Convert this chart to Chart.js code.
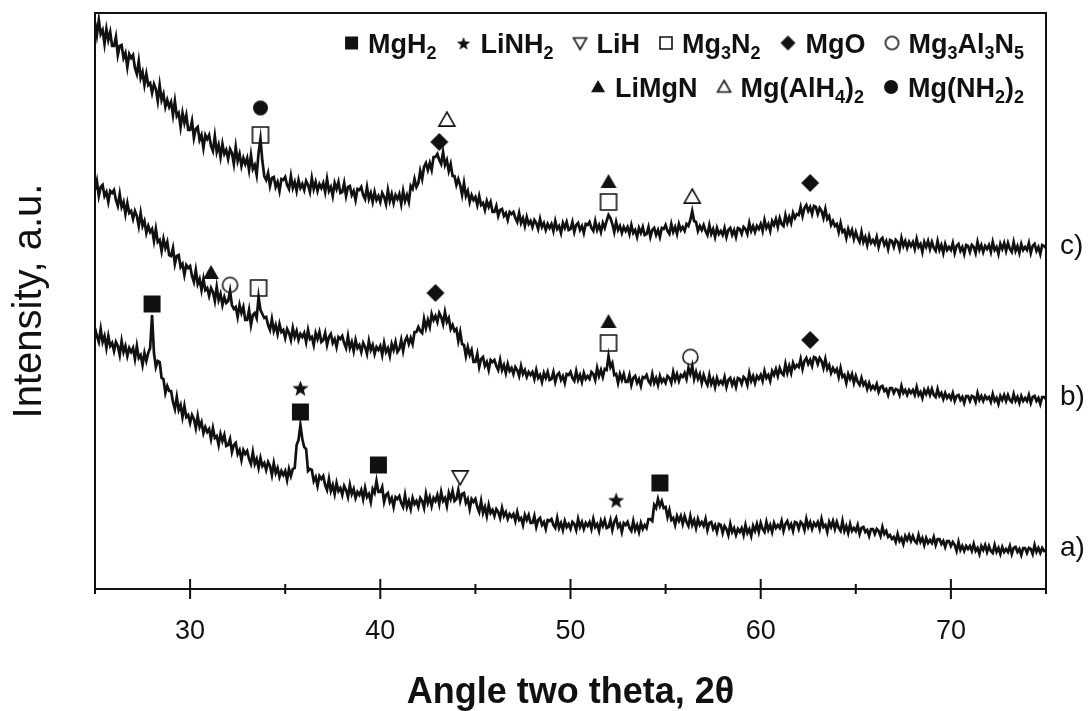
<!DOCTYPE html>
<html>
<head>
<meta charset="utf-8">
<title>XRD patterns</title>
<script src="https://cdn.jsdelivr.net/npm/chart.js@4.4.1/dist/chart.umd.min.js"></script>
<style>
  html, body { margin: 0; padding: 0; background: #fff; }
</style>
</head>
<body>
<canvas id="xrd" width="1090" height="711"></canvas>
<script>
// scan grid, 25-75 deg in 0.1 deg steps
const twoTheta = [];
for (let i = 0; i <= 500; i++) twoTheta.push(+(25 + i * 0.1).toFixed(1));

// intensities, a.u. (patterns stacked with their own offsets), one row per degree
const patternA = [
    261, 253, 247, 260, 247, 253, 241, 253, 243, 246, // 25
    238, 247, 243, 234, 248, 237, 243, 233, 241, 237, // 26
    241, 230, 243, 231, 234, 224, 236, 228, 236, 241, // 27
    274, 236, 222, 228, 227, 211, 210, 196, 203, 198, // 28
    198, 187, 180, 192, 179, 184, 172, 183, 172, 174, // 29
    166, 174, 170, 161, 173, 162, 167, 156, 162, 157, // 30
    160, 150, 161, 151, 153, 144, 155, 148, 154, 143, // 31
    144, 150, 137, 144, 146, 135, 139, 129, 139, 135, // 32
    138, 130, 125, 137, 125, 130, 121, 131, 123, 126, // 33
    119, 127, 123, 114, 126, 116, 121, 112, 118, 114, // 34
    118, 109, 120, 113, 120, 121, 144, 149, 164, 150, // 35
    142, 140, 118, 120, 119, 108, 112, 103, 113, 110, // 36
    113, 104, 99, 110, 98, 104, 95, 106, 98, 101,     // 37
    94, 103, 99, 92, 104, 95, 100, 91, 97, 94,        // 38
    99, 90, 101, 92, 95, 87, 100, 96, 108, 97,        // 39
    97, 102, 87, 94, 96, 87, 91, 82, 92, 90,          // 40
    93, 86, 82, 94, 82, 88, 80, 91, 85, 88,           // 41
    82, 91, 88, 81, 95, 86, 92, 83, 91, 88,           // 42
    94, 85, 97, 88, 91, 83, 96, 90, 98, 88,           // 43
    90, 99, 88, 95, 96, 86, 90, 80, 90, 87,           // 44
    90, 82, 77, 88, 76, 82, 73, 84, 76, 79,           // 45
    73, 80, 77, 71, 81, 73, 77, 70, 75, 72,           // 46
    75, 68, 77, 69, 71, 64, 74, 69, 74, 66,           // 47
    66, 73, 62, 69, 71, 64, 67, 60, 69, 68,           // 48
    70, 64, 61, 71, 61, 66, 59, 68, 62, 65,           // 49
    60, 67, 65, 59, 70, 62, 67, 60, 66, 63,           // 50
    67, 60, 70, 62, 65, 58, 68, 63, 69, 61,           // 51
    62, 69, 59, 67, 71, 62, 65, 57, 66, 64,           // 52
    67, 61, 58, 68, 59, 64, 57, 66, 60, 64,           // 53
    61, 70, 70, 68, 84, 81, 90, 83, 88, 81,           // 54
    82, 72, 79, 69, 71, 64, 73, 68, 73, 65,           // 55
    73, 67, 63, 73, 64, 69, 61, 70, 64, 67,           // 56
    63, 70, 59, 66, 67, 60, 64, 57, 65, 64,           // 57
    56, 63, 60, 54, 65, 57, 61, 54, 60, 57,           // 58
    61, 54, 64, 56, 60, 53, 63, 58, 65, 57,           // 59
    66, 60, 57, 67, 59, 64, 57, 66, 61, 64,           // 60
    61, 68, 58, 65, 68, 61, 65, 58, 67, 66,           // 61
    60, 67, 65, 59, 70, 62, 67, 60, 66, 63,           // 62
    67, 60, 70, 62, 64, 57, 67, 62, 68, 60,           // 63
    67, 61, 58, 68, 58, 63, 56, 65, 58, 61,           // 64
    58, 64, 55, 61, 62, 57, 59, 53, 60, 60,           // 65
    55, 60, 58, 53, 62, 55, 58, 52, 54, 50,           // 66
    52, 47, 55, 48, 51, 45, 53, 49, 54, 48,           // 67
    53, 48, 46, 54, 47, 51, 44, 51, 46, 49,           // 68
    46, 52, 44, 50, 50, 45, 48, 42, 48, 48,           // 69
    43, 47, 44, 38, 47, 39, 43, 38, 43, 40,           // 70
    43, 38, 45, 38, 41, 35, 43, 39, 44, 37,           // 71
    43, 38, 36, 44, 37, 41, 35, 42, 37, 40,           // 72
    37, 43, 35, 41, 42, 37, 40, 34, 41, 41,           // 73
    36, 41, 40, 35, 44, 37, 41, 36, 41, 38,           // 74
    39
];
const patternB = [
    399, 408, 393, 402, 404, 393, 397, 387, 398, 396, // 25
    399, 389, 383, 395, 382, 387, 375, 386, 376, 378, // 26
    370, 378, 373, 363, 376, 363, 368, 356, 363, 357, // 27
    360, 348, 360, 347, 349, 338, 350, 341, 347, 334, // 28
    333, 341, 325, 333, 334, 322, 325, 314, 324, 321, // 29
    323, 313, 307, 319, 305, 310, 299, 310, 299, 301, // 30
    293, 301, 297, 288, 302, 289, 295, 284, 292, 286, // 31
    288, 298, 284, 280, 282, 272, 284, 276, 282, 269, // 32
    269, 279, 264, 274, 276, 271, 292, 279, 275, 271, // 33
    272, 264, 259, 270, 258, 264, 255, 265, 257, 259, // 34
    251, 260, 256, 249, 261, 252, 258, 249, 255, 252, // 35
    256, 247, 259, 250, 252, 244, 256, 250, 257, 247, // 36
    249, 256, 244, 252, 255, 246, 250, 242, 252, 250, // 37
    253, 246, 241, 253, 241, 247, 238, 249, 241, 244, // 38
    237, 246, 242, 235, 248, 239, 244, 235, 242, 239, // 39
    243, 234, 246, 237, 241, 233, 245, 239, 247, 237, // 40
    240, 249, 238, 248, 252, 245, 251, 245, 257, 257, // 41
    262, 258, 256, 270, 261, 269, 262, 275, 269, 273, // 42
    267, 276, 272, 265, 277, 267, 271, 260, 264, 258, // 43
    260, 248, 257, 245, 244, 233, 242, 234, 239, 227, // 44
    227, 235, 222, 230, 232, 223, 227, 219, 229, 227, // 45
    229, 223, 219, 229, 219, 224, 216, 225, 218, 221, // 46
    215, 222, 219, 213, 223, 215, 219, 212, 217, 214, // 47
    217, 210, 219, 211, 214, 207, 216, 211, 217, 209, // 48
    210, 217, 207, 214, 216, 209, 213, 206, 215, 214, // 49
    217, 211, 208, 218, 209, 214, 207, 216, 210, 213, // 50
    210, 217, 215, 209, 221, 213, 219, 212, 220, 219, // 51
    233, 222, 226, 214, 215, 206, 215, 209, 215, 207, // 52
    207, 214, 204, 211, 213, 206, 210, 203, 212, 211, // 53
    214, 208, 205, 215, 206, 211, 204, 213, 207, 210, // 54
    206, 213, 211, 206, 217, 209, 215, 208, 214, 212, // 55
    216, 210, 221, 215, 223, 210, 217, 210, 215, 206, // 56
    214, 208, 204, 214, 205, 210, 202, 211, 205, 208, // 57
    205, 212, 202, 209, 211, 204, 209, 202, 211, 210, // 58
    205, 212, 210, 204, 216, 208, 213, 206, 213, 210, // 59
    214, 208, 218, 211, 214, 208, 218, 214, 220, 213, // 60
    221, 216, 214, 225, 216, 223, 216, 226, 221, 224, // 61
    222, 230, 220, 228, 231, 225, 229, 223, 232, 231, // 62
    225, 231, 228, 221, 230, 220, 224, 216, 221, 217, // 63
    220, 212, 221, 212, 214, 206, 215, 210, 215, 206, // 64
    213, 207, 204, 211, 204, 207, 200, 206, 200, 203, // 65
    200, 205, 197, 202, 203, 198, 200, 194, 201, 201, // 66
    196, 200, 199, 194, 203, 196, 199, 194, 199, 196, // 67
    199, 194, 202, 194, 197, 191, 199, 195, 200, 194, // 68
    200, 194, 192, 200, 193, 196, 190, 196, 191, 194, // 69
    190, 196, 188, 193, 194, 189, 192, 186, 193, 193, // 70
    188, 193, 192, 187, 196, 189, 193, 188, 193, 190, // 71
    192, 187, 195, 188, 191, 185, 193, 189, 194, 188, // 72
    194, 189, 187, 195, 188, 192, 186, 193, 188, 191, // 73
    188, 194, 186, 192, 193, 188, 191, 185, 192, 192, // 74
    190
];
const patternC = [
    567, 554, 569, 555, 559, 545, 560, 549, 557, 543, // 25
    543, 552, 534, 543, 544, 531, 536, 522, 535, 531, // 26
    534, 521, 515, 528, 511, 517, 504, 515, 504, 506, // 27
    496, 505, 500, 488, 504, 489, 495, 482, 489, 482, // 28
    487, 474, 488, 473, 476, 462, 476, 466, 474, 459, // 29
    459, 468, 451, 460, 462, 449, 454, 441, 454, 450, // 30
    454, 443, 438, 453, 437, 444, 432, 445, 435, 439, // 31
    430, 440, 436, 425, 442, 428, 435, 423, 431, 425, // 32
    431, 419, 434, 420, 424, 414, 436, 450, 428, 413, // 33
    409, 416, 403, 411, 412, 402, 407, 398, 410, 409, // 34
    412, 404, 400, 413, 401, 407, 398, 409, 401, 405, // 35
    399, 408, 404, 397, 411, 400, 407, 398, 405, 401, // 36
    406, 397, 410, 398, 402, 393, 406, 400, 407, 396, // 37
    397, 406, 393, 402, 403, 394, 398, 389, 400, 399, // 38
    402, 394, 390, 402, 390, 396, 387, 397, 389, 393, // 39
    387, 396, 392, 385, 399, 388, 395, 386, 394, 390, // 40
    395, 385, 398, 388, 394, 387, 403, 400, 410, 402, // 41
    406, 418, 410, 422, 426, 419, 426, 419, 432, 432, // 42
    435, 429, 425, 437, 424, 429, 418, 425, 413, 413, // 43
    404, 410, 404, 394, 406, 393, 398, 387, 394, 389, // 44
    392, 384, 393, 384, 386, 379, 388, 382, 387, 377, // 45
    377, 383, 373, 379, 380, 373, 376, 369, 377, 375, // 46
    377, 371, 367, 376, 366, 371, 363, 372, 365, 368, // 47
    362, 369, 366, 360, 370, 362, 366, 359, 365, 361, // 48
    365, 358, 368, 360, 363, 356, 366, 361, 367, 359, // 49
    360, 367, 357, 364, 366, 359, 363, 356, 365, 364, // 50
    367, 361, 358, 368, 359, 364, 357, 366, 361, 368, // 51
    374, 371, 365, 357, 367, 359, 363, 356, 362, 358, // 52
    362, 355, 364, 356, 359, 352, 361, 356, 362, 354, // 53
    355, 362, 352, 359, 361, 354, 359, 352, 361, 360, // 54
    364, 358, 355, 365, 357, 362, 355, 365, 359, 362, // 55
    358, 365, 363, 369, 378, 368, 367, 358, 363, 359, // 56
    364, 358, 354, 364, 355, 360, 352, 361, 355, 358, // 57
    354, 361, 352, 359, 361, 354, 359, 352, 361, 360, // 58
    355, 362, 360, 355, 366, 358, 363, 357, 363, 360, // 59
    365, 358, 369, 361, 365, 358, 368, 364, 370, 362, // 60
    371, 365, 363, 374, 366, 372, 366, 376, 371, 375, // 61
    374, 382, 373, 381, 384, 378, 382, 375, 383, 382, // 62
    375, 381, 378, 371, 380, 370, 373, 364, 368, 363, // 63
    365, 357, 366, 357, 359, 351, 360, 354, 359, 350, // 64
    357, 351, 347, 357, 347, 352, 344, 353, 346, 349, // 65
    345, 352, 342, 349, 351, 344, 348, 340, 349, 348, // 66
    342, 349, 347, 340, 351, 343, 348, 341, 347, 343, // 67
    347, 340, 350, 342, 345, 337, 347, 342, 348, 340, // 68
    347, 341, 338, 348, 339, 344, 336, 345, 339, 342, // 69
    339, 346, 336, 343, 345, 338, 342, 335, 344, 343, // 70
    337, 344, 342, 336, 347, 339, 344, 337, 343, 340, // 71
    344, 337, 347, 339, 342, 335, 345, 340, 346, 338, // 72
    346, 340, 337, 347, 338, 343, 336, 345, 339, 342, // 73
    339, 346, 336, 343, 345, 338, 342, 335, 344, 343, // 74
    341
];
const patternNames = ['a)', 'b)', 'c)'];

// phase markers: [2theta, height]
const mgh2Marks = [[28.0, 285], [35.8, 177], [39.9, 124], [54.7, 106]];
const linh2Marks = [[35.8, 201], [52.4, 89]];
const lihMarks = [[44.2, 112]];
const mg3n2Marks = [[33.7, 454], [52.0, 387], [33.6, 301], [52.0, 246]];
const mgoMarks = [[43.1, 447], [62.6, 406], [42.9, 296], [62.6, 249]];
const mg3al3n5Marks = [[32.1, 304], [56.3, 232]];
const limgnMarks = [[52.0, 407], [31.1, 316], [52.0, 267]];
const mgalh4Marks = [[43.5, 469], [56.4, 392]];
const mgnh2Marks = [[33.7, 481]];

const INK = '#111';
const FONT = '"Liberation Sans", Arial, sans-serif';

// small canvas glyphs used as point styles and legend keys
function makeSymbol(kind, size) {
    const pad = 2;
    const c = document.createElement('canvas');
    c.width = c.height = Math.ceil(size + pad * 2);
    const g = c.getContext('2d');
    const m = pad + size / 2, r = size / 2;
    const open = kind.startsWith('open');
    const shape = kind.replace('open', '').toLowerCase();
    g.beginPath();
    switch (shape) {
        case 'square':
            g.rect(pad, pad, size, size);
            break;
        case 'diamond':
            g.moveTo(m, pad); g.lineTo(pad + size, m); g.lineTo(m, pad + size); g.lineTo(pad, m);
            g.closePath();
            break;
        case 'circle':
            g.arc(m, m, r, 0, Math.PI * 2);
            break;
        case 'triangle':
            g.moveTo(m, pad); g.lineTo(pad + size, pad + size * 0.88); g.lineTo(pad, pad + size * 0.88);
            g.closePath();
            break;
        case 'triangledown':
            g.moveTo(pad, pad + size * 0.12); g.lineTo(pad + size, pad + size * 0.12); g.lineTo(m, pad + size);
            g.closePath();
            break;
        case 'star':
            for (let k = 0; k < 10; k++) {
                const a = -Math.PI / 2 + k * Math.PI / 5;
                const rr = k % 2 ? r * 0.42 : r;
                g.lineTo(m + rr * Math.cos(a), m + 1 + rr * Math.sin(a));
            }
            g.closePath();
            break;
    }
    if (open) {
        g.fillStyle = '#fff';
        g.fill();
        g.lineWidth = 1.6;
        g.strokeStyle = INK;
        g.stroke();
    } else {
        g.fillStyle = INK;
        g.fill();
    }
    return c;
}

const phases = [
    {name: 'MgH_2', kind: 'square', marks: mgh2Marks, size: 17, key: 13},
    {name: 'LiNH_2', kind: 'star', marks: linh2Marks, size: 17, key: 14},
    {name: 'LiH', kind: 'openTriangleDown', marks: lihMarks, size: 16, key: 13},
    {name: 'Mg_3N_2', kind: 'openSquare', marks: mg3n2Marks, size: 16, key: 12},
    {name: 'MgO', kind: 'diamond', marks: mgoMarks, size: 18, key: 15},
    {name: 'Mg_3Al_3N_5', kind: 'openCircle', marks: mg3al3n5Marks, size: 15, key: 13},
    {name: 'LiMgN', kind: 'triangle', marks: limgnMarks, size: 16, key: 14},
    {name: 'Mg(AlH_4)_2', kind: 'openTriangle', marks: mgalh4Marks, size: 16, key: 13},
    {name: 'Mg(NH_2)_2', kind: 'circle', marks: mgnh2Marks, size: 15, key: 14}
];
phases.forEach(p => {
    p.glyph = makeSymbol(p.kind, p.size);
    p.keyGlyph = makeSymbol(p.kind, p.key);
});

function traceDataset(values, name) {
    return {
        type: 'line',
        label: name,
        data: twoTheta.map((t, i) => ({x: t, y: values[i]})),
        borderColor: INK,
        borderWidth: 2.7,
        pointRadius: 0,
        tension: 0,
        fill: false
    };
}

const datasets = [
    traceDataset(patternA, patternNames[0]),
    traceDataset(patternB, patternNames[1]),
    traceDataset(patternC, patternNames[2])
];
phases.forEach(p => {
    datasets.push({
        type: 'scatter',
        label: p.name,
        data: p.marks.map(m => ({x: m[0], y: m[1]})),
        pointStyle: p.glyph,
        pointRadius: p.size / 2,
        showLine: false
    });
});

// text with "_3" style subscripts
function richRuns(name) {
    const parts = name.split(/_(\d)/);
    return parts.map((s, i) => ({text: s, sub: i % 2 === 1})).filter(r => r.text);
}
const keyFont = 'bold 27px ' + FONT;
const subFont = 'bold 18px ' + FONT;

function richWidth(ctx, name) {
    let w = 0;
    richRuns(name).forEach(r => {
        ctx.font = r.sub ? subFont : keyFont;
        w += ctx.measureText(r.text).width;
    });
    return w;
}

function drawRich(ctx, name, x, y) {
    richRuns(name).forEach(r => {
        ctx.font = r.sub ? subFont : keyFont;
        ctx.fillText(r.text, x, r.sub ? y + 6 : y);
        x += ctx.measureText(r.text).width;
    });
}

const decorations = {
    id: 'decorations',
    afterDraw(chart) {
        const ctx = chart.ctx;
        const area = chart.chartArea;
        const xs = chart.scales.x;
        ctx.save();
        ctx.strokeStyle = INK;
        ctx.fillStyle = INK;

        // top and right frame
        ctx.lineWidth = 2;
        ctx.beginPath();
        ctx.moveTo(area.left, area.top);
        ctx.lineTo(area.right, area.top);
        ctx.lineTo(area.right, area.bottom + 5);
        ctx.stroke();

        // tick marks crossing the x axis
        xs.ticks.forEach(t => {
            const px = xs.getPixelForValue(t.value);
            const len = t.value % 10 === 0 ? 10 : 5;
            ctx.beginPath();
            ctx.moveTo(px, area.bottom - len);
            ctx.lineTo(px, area.bottom + len);
            ctx.stroke();
        });

        // pattern labels at the right-hand end of each trace
        ctx.font = '28px ' + FONT;
        ctx.textBaseline = 'middle';
        ctx.textAlign = 'left';
        for (let i = 0; i < 3; i++) {
            const pts = chart.getDatasetMeta(i).data;
            const last = pts[pts.length - 1];
            ctx.fillText(chart.data.datasets[i].label, area.right + 14, last.y - 2);
        }

        // phase key, two right-aligned rows
        ctx.textBaseline = 'alphabetic';
        const rows = [phases.slice(0, 6), phases.slice(6)];
        const baselines = [53, 97];
        const keyRight = 1024, symGap = 8, itemGap = 18;
        rows.forEach((row, ri) => {
            const widths = row.map(p => p.keyGlyph.width + symGap + richWidth(ctx, p.name));
            let x = keyRight - widths.reduce((a, b) => a + b, 0) - itemGap * (row.length - 1);
            const y = baselines[ri];
            row.forEach((p, k) => {
                const g = p.keyGlyph;
                ctx.drawImage(g, x, y - 10 - g.height / 2);
                drawRich(ctx, p.name, x + g.width + symGap, y);
                x += widths[k] + itemGap;
            });
        });
        ctx.restore();
    }
};

new Chart(document.getElementById('xrd'), {
    data: {datasets: datasets},
    options: {
        responsive: false,
        animation: false,
        layout: {padding: {top: 13, right: 44, left: 0, bottom: 0}},
        plugins: {
            legend: {display: false},
            tooltip: {enabled: false}
        },
        scales: {
            x: {
                type: 'linear',
                min: 25,
                max: 75,
                afterFit: s => { s.height = 122; },
                grid: {display: false, drawTicks: false},
                border: {display: true, color: INK, width: 2},
                ticks: {
                    stepSize: 5,
                    autoSkip: false,
                    maxRotation: 0,
                    padding: 26,
                    color: INK,
                    font: {family: FONT, size: 27},
                    callback: v => (v % 10 === 0 && v > 25 && v < 75) ? String(v) : ''
                },
                title: {
                    display: true,
                    text: 'Angle two theta, 2θ',
                    color: INK,
                    font: {family: FONT, size: 36, weight: 'bold', lineHeight: 1},
                    padding: {top: 0, bottom: 0}
                }
            },
            y: {
                type: 'linear',
                min: 0,
                max: 576,
                afterFit: s => { s.width = 95; },
                grid: {display: false, drawTicks: false},
                border: {display: true, color: INK, width: 2},
                ticks: {display: false},
                title: {
                    display: true,
                    text: 'Intensity, a.u.',
                    color: INK,
                    font: {family: FONT, size: 40, lineHeight: 1},
                    padding: {top: 10, bottom: 0}
                }
            }
        }
    },
    plugins: [decorations]
});
</script>
</body>
</html>
